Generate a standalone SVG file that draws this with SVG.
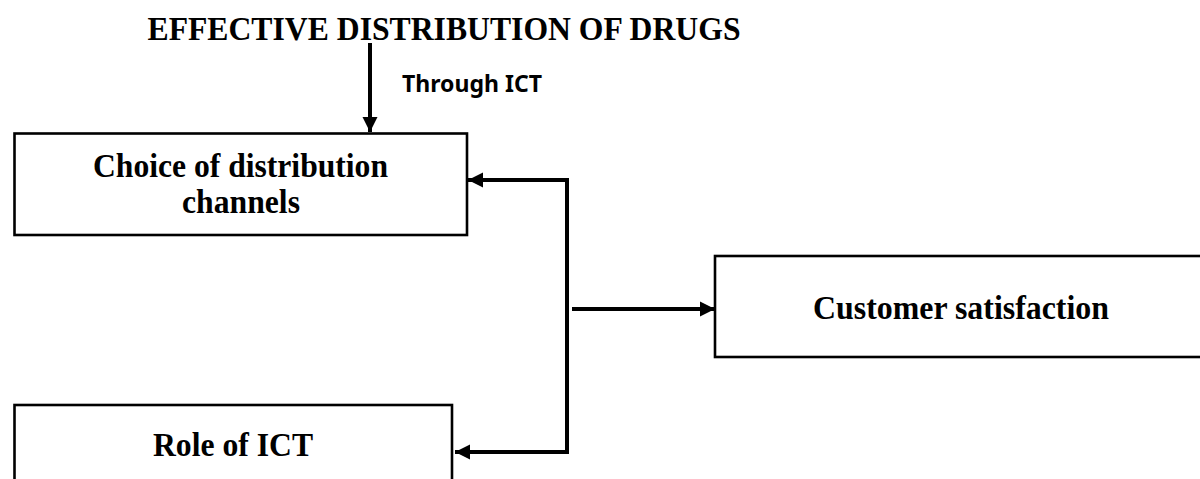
<svg xmlns="http://www.w3.org/2000/svg" width="1200" height="479" viewBox="0 0 1200 479">
<style>
.box{fill:#fff;stroke:#000;stroke-width:2.6}
.lbl{font-family:"Liberation Serif","Times New Roman",serif;font-weight:bold;font-size:33px;fill:#000;text-anchor:middle}
.con{fill:none;stroke:#000;stroke-width:4}
.sans{font-family:"Noto Sans","Liberation Sans",sans-serif;font-weight:bold;font-size:24px;fill:#000}
</style>
<defs>
<marker id="ah" markerUnits="userSpaceOnUse" markerWidth="16" markerHeight="16" viewBox="0 0 15 16" refX="15" refY="8" orient="auto">
<path d="M0,0.5 L15,8 L0,15.5 Z" fill="#000"/>
</marker>
</defs>
<rect width="1200" height="479" fill="#fff"/>
<g id="title">
<text class="lbl" x="444" y="40" font-size="35" textLength="593" lengthAdjust="spacingAndGlyphs">EFFECTIVE DISTRIBUTION OF DRUGS</text>
</g>
<g id="choice">
<rect class="box" x="14.5" y="133.5" width="452.5" height="101.5"/>
<text class="lbl" x="240.5" y="177" textLength="295" lengthAdjust="spacingAndGlyphs">Choice of distribution</text>
<text class="lbl" x="241" y="213" textLength="118" lengthAdjust="spacingAndGlyphs">channels</text>
</g>
<g id="customer">
<rect class="box" x="715" y="256" width="490" height="101"/>
<text class="lbl" x="961" y="319" textLength="296" lengthAdjust="spacingAndGlyphs">Customer satisfaction</text>
</g>
<g id="role">
<rect class="box" x="14.5" y="405" width="437.5" height="90"/>
<text class="lbl" x="233" y="456" textLength="160" lengthAdjust="spacingAndGlyphs">Role of ICT</text>
</g>
<g id="connectors">
<line class="con" x1="370" y1="43" x2="370" y2="132" stroke-width="4" marker-end="url(#ah)"/>
<text class="sans" x="402" y="92" textLength="140" lengthAdjust="spacingAndGlyphs">Through ICT</text>
<polyline class="con" points="567,178 567,454"/>
<line class="con" x1="569" y1="180" x2="468" y2="180" marker-end="url(#ah)"/>
<line class="con" x1="569" y1="452" x2="455" y2="452" marker-end="url(#ah)"/>
<line class="con" x1="572" y1="309" x2="715" y2="309" marker-end="url(#ah)"/>
</g>
</svg>
